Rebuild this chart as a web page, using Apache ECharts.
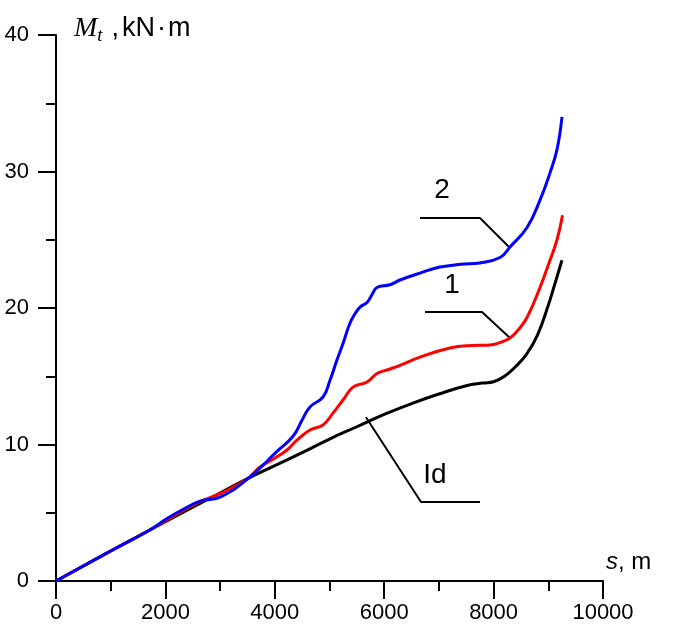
<!DOCTYPE html>
<html>
<head>
<meta charset="utf-8">
<script src="https://cdn.jsdelivr.net/npm/echarts@6/dist/echarts.min.js"></script>
<style>html,body{margin:0;padding:0;background:#fff}#c{width:685px;height:641px}</style>
</head>
<body>
<div id="c"></div>
<script>
// distance s, m (x) and torque Mt, kN·m (y)
const idX = [0,1000,2000,3000,3500,4000,4500,5000,5500,6000,6500,7000,7500,7800,8000,8200,8400,8600,8800,9000,9100,9250];
const idY = [0,2.2,4.35,6.45,7.5,8.45,9.4,10.4,11.3,12.2,13.0,13.7,14.3,14.5,14.6,15.0,15.7,16.6,18.0,20.2,21.5,23.5];

const c1X = [0,1000,1700,2000,2600,3000,3500,3730,4000,4223,4400,4643,4881,5064,5247,5430,5686,5868,6051,6289,6654,7203,7600,7934,8100,8300,8450,8611,8848,9031,9159,9260];
const c1Y = [0,2.2,3.7,4.4,5.75,6.4,7.5,8.35,9.0,9.6,10.3,11.06,11.43,12.3,13.26,14.2,14.58,15.2,15.46,15.8,16.4,17.07,17.25,17.29,17.45,17.8,18.4,19.3,21.5,23.5,25.0,26.8];

const c2X = [0,1000,1718,2000,2300,2633,3000,3547,4040,4333,4500,4643,4881,5009,5137,5247,5375,5470,5558,5686,5780,5868,6106,6289,6654,7020,7400,7751,8117,8300,8611,8848,9031,9159,9250];
const c2Y = [0,2.2,3.74,4.5,5.2,5.85,6.15,7.62,9.5,10.6,11.8,12.75,13.48,14.7,16.2,17.4,18.9,19.6,20.07,20.4,21.0,21.5,21.7,22.05,22.56,23.0,23.2,23.3,23.7,24.47,25.9,27.9,29.9,31.6,34.0];

const xTicks = [0,2000,4000,6000,8000,10000];
const yTicks = [0,10,20,30,40];

// annotation leader lines (data coordinates) and labels
const lead2 = [[6654,26.59],[7751,26.59],[8282,24.47]];
const lead1 = [[6746,19.71],[7788,19.71],[8300,17.80]];
const leadId = [[5667,12.0],[6673,5.79],[7751,5.79]];
const labelPts = [[7057,28.64,'2'],[7239,21.68,'1'],[6929,7.77,'Id']];

const zip = (xs, ys) => xs.map((x,i)=>[x,ys[i]]);
const chart = echarts.init(document.getElementById('c'), null, {renderer:'canvas'});
const labelFont = 'Liberation Sans, Arial, sans-serif';
const axisCommon = {
  axisLine:{show:true,onZero:false,lineStyle:{color:'#000',width:2}},
  axisTick:{show:true,inside:false,length:18,lineStyle:{color:'#000',width:2}},
  minorTick:{show:true,splitNumber:2,length:10,lineStyle:{color:'#000',width:2}},
  splitLine:{show:false}
};
const curve = (name, data, color, z) => ({
  name, type:'line', data, showSymbol:false, smooth:0.45,
  lineStyle:{color, width:3}, z, silent:true, animation:false
});
const leader = (data) => ({
  type:'line', data, showSymbol:false, lineStyle:{color:'#000',width:2}, z:1, silent:true, animation:false
});
chart.setOption({
  animation:false,
  grid:{left:56,right:82,top:35,bottom:60,containLabel:false},
  xAxis:Object.assign({type:'value',min:xTicks[0],max:xTicks[xTicks.length-1],interval:2000},axisCommon,
    {axisLabel:{color:'#000',fontSize:22,fontFamily:labelFont,margin:21,formatter:v=>String(v)}}),
  yAxis:Object.assign({type:'value',min:yTicks[0],max:yTicks[yTicks.length-1],interval:10},axisCommon,
    {axisLabel:{color:'#000',fontSize:22,fontFamily:labelFont,margin:27,formatter:v=>String(v)}}),
  series:[
    leader(lead2), leader(lead1), leader(leadId),
    curve('Id', zip(idX,idY), '#000000', 3),
    curve('1', zip(c1X,c1Y), '#ff0000', 4),
    curve('2', zip(c2X,c2Y), '#0000ff', 5),
    {type:'scatter', symbolSize:1, silent:true, z:6,
     itemStyle:{color:'rgba(0,0,0,0)',opacity:1},
     data:labelPts.map(p=>({value:[p[0],p[1]],label:{formatter:p[2]}})),
     label:{show:true,position:'inside',color:'#000000',opacity:1,textBorderWidth:0,fontSize:28,fontFamily:labelFont}}
  ],
  graphic:[
    {type:'text', left:74, top:15, style:{
      rich:{
        m:{fontFamily:'Liberation Serif, Times New Roman, serif',fontStyle:'italic',fontSize:28,fill:'#000'},
        t:{fontFamily:'Liberation Serif, Times New Roman, serif',fontStyle:'italic',fontSize:19,fill:'#000',padding:[14,0,0,0]},
        c:{fontFamily:labelFont,fontSize:27,fill:'#000',padding:[0,2,0,9]},
        u:{fontFamily:labelFont,fontSize:27,fill:'#000',padding:[0,1,0,1]}
      },
      text:'{m|M}{t|t}{c|,}{u|kN}{u|·}{u|m}'
    }},
    {type:'text', left:606, top:550, style:{
      rich:{
        s:{fontFamily:labelFont,fontStyle:'italic',fontSize:24,fill:'#000'},
        u:{fontFamily:labelFont,fontSize:24,fill:'#000'}
      },
      text:'{s|s}{u|, m}'
    }}
  ]
});
</script>
</body>
</html>
